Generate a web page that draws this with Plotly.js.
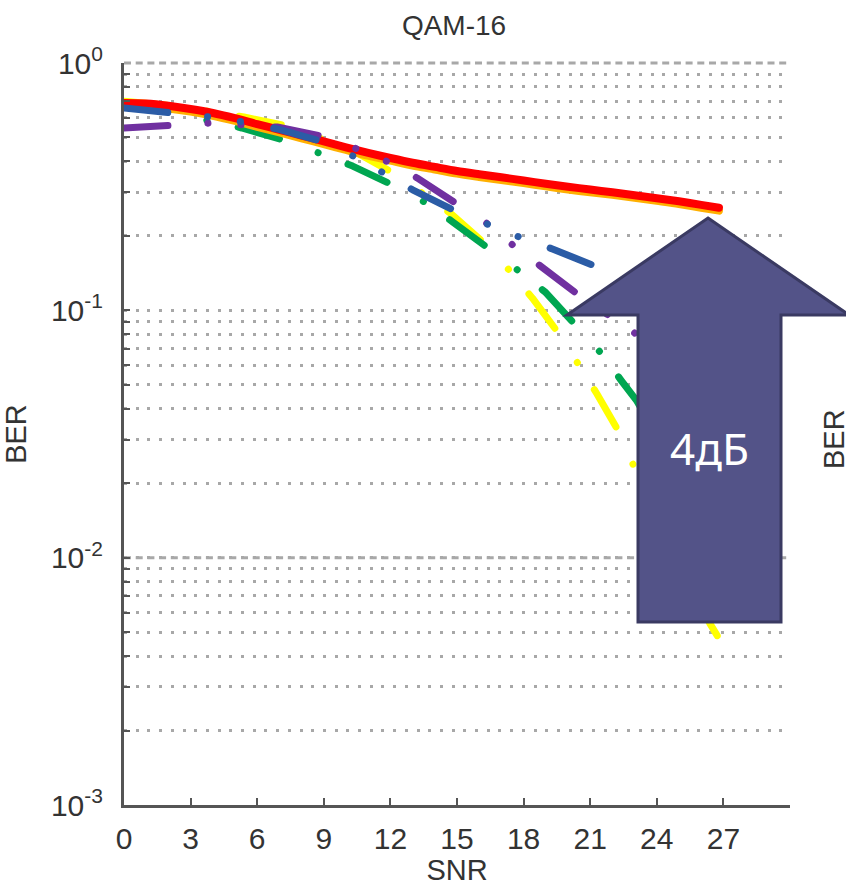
<!DOCTYPE html>
<html>
<head>
<meta charset="utf-8">
<script src="https://cdn.plot.ly/plotly-3.0.1.min.js"></script>
<style>html,body{margin:0;padding:0;background:#fff;}#chart{width:846px;height:886px;}</style>
</head>
<body>
<div id="chart"></div>
<script>
// ---- data ----
const xTicks = [0, 3, 6, 9, 12, 15, 18, 21, 24, 27];
const decades = [1, 0.1, 0.01, 0.001];
const decadeLabels = ['10<sup>0</sup>', '10<sup>-1</sup>', '10<sup>-2</sup>', '10<sup>-3</sup>'];

const redSNR = [0,1,2,3,4,5,6,7,8,9,10,11,12,13,14,15,16,17,18,19,20,21,22,23,24,25,26,26.8];
const redBER = [0.689,0.686,0.672,0.652,0.628,0.598,0.566,0.537,0.509,0.482,0.456,0.433,0.413,0.395,0.380,0.366,0.355,0.345,0.335,0.325,0.316,0.308,0.300,0.292,0.284,0.276,0.267,0.260];
const orangeBER = [0.672,0.669,0.655,0.636,0.612,0.583,0.552,0.524,0.496,0.470,0.445,0.422,0.403,0.385,0.371,0.357,0.346,0.336,0.327,0.317,0.308,0.300,0.293,0.285,0.277,0.269,0.260,0.253];

const yellowSNR = [0, 2.4, 3.9, 5.4, 7.6, 8.9, 10.5, 12.3, 14.7, 16.6, 17.4, 18.4, 19.7, 20.5, 21.3, 22.4, 23.0, 26.4, 27.0];
const yellowBER = [0.700, 0.668, 0.636, 0.605, 0.551, 0.495, 0.433, 0.352, 0.247, 0.175, 0.143, 0.112, 0.078, 0.060, 0.046, 0.031, 0.023, 0.0054, 0.0044];

const greenSNR = [0, 2.4, 3.9, 5.3, 7.5, 8.8, 10.3, 12.3, 13.6, 14.8, 16.6, 17.8, 19.0, 20.5, 21.5, 22.4, 23.1, 25.0, 27.0];
const greenBER = [0.662, 0.630, 0.583, 0.546, 0.479, 0.433, 0.383, 0.315, 0.272, 0.228, 0.175, 0.144, 0.118, 0.085, 0.067, 0.052, 0.043, 0.022, 0.011];

const purpleSNR = [0, 2.4, 3.9, 6.9, 9.1, 10.4, 11.9, 13.2, 15.1, 16.4, 17.5, 18.7, 20.5, 23.0, 25.0, 27.0];
const purpleBER = [0.546, 0.567, 0.572, 0.551, 0.502, 0.453, 0.398, 0.343, 0.267, 0.223, 0.184, 0.153, 0.115, 0.081, 0.060, 0.045];

const blueSNR = [0, 2.4, 3.9, 5.4, 6.9, 9.0, 10.4, 11.7, 13.0, 15.0, 16.4, 17.8, 19.3, 21.3, 23.0, 25.0, 27.0];
const blueBER = [0.658, 0.628, 0.605, 0.577, 0.541, 0.479, 0.417, 0.359, 0.307, 0.250, 0.221, 0.198, 0.177, 0.150, 0.128, 0.105, 0.085];

// ---- build axes ticks (decades + minor 2..9) ----
const yTickVals = [], yTickText = [];
decades.forEach((d, i) => {
  yTickVals.push(d); yTickText.push(decadeLabels[i]);
  if (d < 1) {
    for (let m = 2; m <= 9; m++) { yTickVals.push(d * m); yTickText.push(''); }
  }
});

const FONT = 'Liberation Sans, Arial, sans-serif';
const dashA = '43px,41px,0.1px,32px';
const dashB = '44px,40px,0.1px,33px,0.1px,34px';

function tr(x, y, color, width, dash, smooth) {
  const line = {color: color, width: width, dash: dash || 'solid'};
  if (smooth) { line.shape = 'spline'; line.smoothing = 0.8; }
  return {x: x, y: y, type: 'scatter', mode: 'lines', hoverinfo: 'skip', line: line};
}

const data = [
  tr(yellowSNR, yellowBER, '#FFFF00', 7, dashA),
  tr(greenSNR, greenBER, '#00A651', 7, dashA),
  tr(redSNR, orangeBER, '#FFB000', 8, null, true),
  tr(redSNR, redBER, '#FF0000', 8, null, true),
  tr(purpleSNR, purpleBER, '#7030A0', 7, dashB),
  tr(blueSNR, blueBER, '#2B5CA6', 7, dashB)
];

// plot area: x 124..790 px, y 63..805 px
const px = v => (v - 124) / 666;
const py = v => (805 - v) / 742;
const arrowPath = 'M' + px(708) + ',' + py(218) +
  ' L' + px(849) + ',' + py(315) +
  ' L' + px(781) + ',' + py(315) +
  ' L' + px(781) + ',' + py(622) +
  ' L' + px(638) + ',' + py(622) +
  ' L' + px(638) + ',' + py(315) +
  ' L' + px(567) + ',' + py(315) + ' Z';

const layout = {
  width: 846, height: 886,
  margin: {l: 124, r: 56, t: 63, b: 81},
  paper_bgcolor: '#ffffff', plot_bgcolor: '#ffffff',
  showlegend: false,
  font: {family: FONT, size: 30, color: '#333333'},
  title: {text: 'QAM-16', x: 454 / 846, xanchor: 'center', y: 1 - 25 / 886, yanchor: 'middle',
          font: {family: FONT, size: 28, color: '#333333'}},
  xaxis: {
    range: [0, 30], tickvals: xTicks, ticktext: xTicks.map(String),
    showgrid: false, zeroline: false,
    showline: true, linecolor: '#555555', linewidth: 3,
    ticks: 'inside', ticklen: 7, tickwidth: 2, tickcolor: '#555555',
    ticklabelstandoff: 5,
    tickfont: {family: FONT, size: 30, color: '#333333'},
    title: {text: 'SNR', standoff: 6, font: {family: FONT, size: 29, color: '#333333'}}
  },
  yaxis: {
    type: 'log', range: [-3, 0],
    tickvals: yTickVals, ticktext: yTickText,
    showgrid: true, gridcolor: '#a8a8a8', gridwidth: 3, griddash: '3px,8.7px',
    zeroline: false,
    showline: true, linecolor: '#555555', linewidth: 3,
    ticks: 'inside', ticklen: 6, tickwidth: 2, tickcolor: '#555555',
    ticklabelstandoff: 12,
    tickfont: {family: FONT, size: 30, color: '#333333'},
    title: {text: 'BER', standoff: 20, font: {family: FONT, size: 29, color: '#333333'}}
  },
  shapes: [
    {type: 'line', xref: 'paper', yref: 'paper', x0: 0, x1: 1, y0: 1, y1: 1, layer: 'below',
     line: {color: '#a8a8a8', width: 3, dash: '7px,4.7px'}},
    {type: 'line', xref: 'paper', yref: 'paper', x0: 0, x1: 1, y0: 1/3, y1: 1/3, layer: 'below',
     line: {color: '#a8a8a8', width: 3, dash: '7px,4.7px'}},
    {type: 'path', xref: 'paper', yref: 'paper', path: arrowPath, layer: 'above',
     fillcolor: '#535388', line: {color: '#3a3a62', width: 3}}
  ],
  annotations: [
    {xref: 'paper', yref: 'paper', x: px(709), y: py(448), text: '4дБ', showarrow: false,
     xanchor: 'center', yanchor: 'middle',
     font: {family: 'Noto Sans, Open Sans, sans-serif', size: 44, color: '#ffffff'}},
    {xref: 'paper', yref: 'paper', x: px(834), y: py(439), text: 'BER', showarrow: false,
     textangle: -90, xanchor: 'center', yanchor: 'middle',
     font: {family: FONT, size: 29, color: '#333333'}}
  ]
};

Plotly.newPlot('chart', data, layout, {staticPlot: true, displayModeBar: false}).then(function () {
  document.querySelectorAll('.scatterlayer path.js-line').forEach(function (p) {
    p.style.strokeLinecap = 'round';
    p.style.strokeLinejoin = 'round';
  });
});
</script>
</body>
</html>
